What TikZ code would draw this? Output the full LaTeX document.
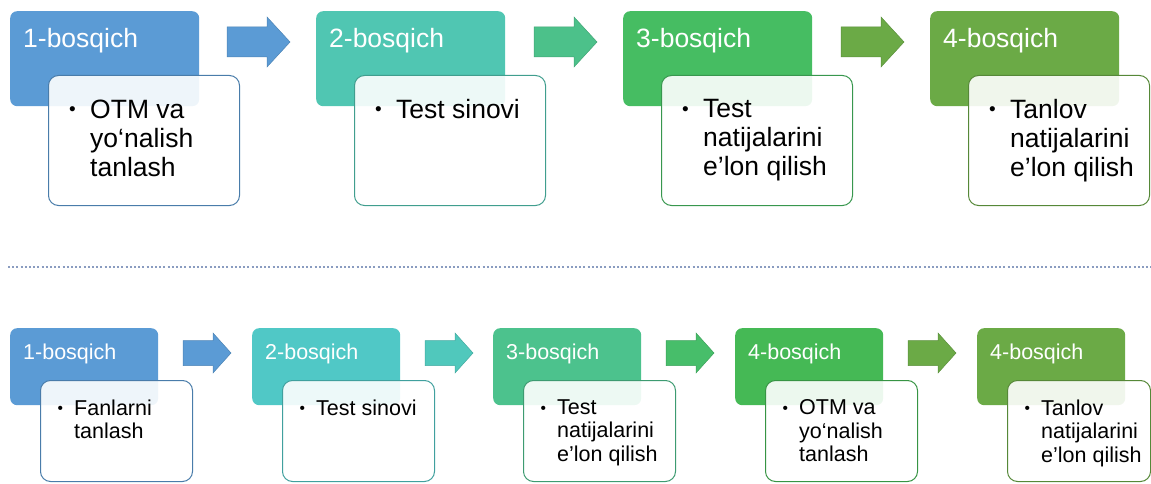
\documentclass[tikz,border=0pt]{standalone}
\usepackage{fontspec}
\setmainfont{Liberation Sans}
\usetikzlibrary{calc}
\definecolor{cBlue}{HTML}{5B9BD5}
\definecolor{cTeal}{HTML}{50C6B2}
\definecolor{cGreen}{HTML}{46BD62}
\definecolor{cOlive}{HTML}{6BAA46}
\definecolor{cCyan}{HTML}{50C8C6}
\definecolor{cMint}{HTML}{4CC28D}
\definecolor{cLeaf}{HTML}{45B955}
\definecolor{aMint}{HTML}{4CC18A}
\definecolor{aTeal}{HTML}{50C8BC}
\definecolor{aGreen}{HTML}{47BE6A}
\definecolor{dotc}{HTML}{8A9CC0}
\tikzset{
  hdr/.style={rectangle, rounded corners=7pt, fill=#1, anchor=north west, inner sep=0pt},
  wbox/.style={rectangle, rounded corners=10pt, draw=#1!80!black, line width=1pt, fill=white, fill opacity=0.9, anchor=north west, inner sep=0pt},
  bigT/.style={font=\fontsize{26.5}{29}\selectfont},
  smallT/.style={font=\fontsize{21.5}{23.5}\selectfont},
  htext/.style={text=white, anchor=base west, inner sep=0pt},
  btext/.style={text=black, anchor=north west, inner sep=0pt, align=left},
  bul/.style={text=black, anchor=base west, inner sep=0pt},
  bigB/.style={font=\fontsize{19}{20}\selectfont},
  smallB/.style={font=\fontsize{15.5}{16}\selectfont},
  blockarrow/.style={fill=#1, draw=#1!85!black, line width=0.5pt},
  sepline/.style={draw=dotc, line width=1.3pt, dash pattern=on 2pt off 2.2pt},
}
% top row stage: name, x, colour, header, body, white width
\newcommand\topstage[6]{%
  \node[hdr=#3, minimum width=189pt, minimum height=95pt] (#1h) at (#2,11) {};
  \node[htext, bigT] (#1ht) at ($(#1h.north west)+(13,37)$) {#4};
  \node[wbox=#3, minimum width=#6pt, minimum height=130pt] (#1w) at ($(#1h.north west)+(38,64)$) {};
  \node[bul, bigB] (#1b) at ($(#1w.north west)+(21,41)$) {•};
  \node[btext, bigT] (#1t) at ($(#1w.north west)+(42,24.5)$) {#5};
}
% bottom row stage
\newcommand\botstage[6]{%
  \node[hdr=#3, minimum width=148pt, minimum height=77pt] (#1h) at (#2,328) {};
  \node[htext, smallT] (#1ht) at ($(#1h.north west)+(13,31)$) {#4};
  \node[wbox=#3, minimum width=#6pt, minimum height=101pt] (#1w) at ($(#1h.north west)+(30,52)$) {};
  \node[bul, smallB] (#1b) at ($(#1w.north west)+(17.5,33)$) {•};
  \node[btext, smallT] (#1t) at ($(#1w.north west)+(34,19.5)$) {#5};
}
\newcommand\toparrow[3]{%
  \coordinate (#1) at (#2,42);
  \path[blockarrow=#3] ($(#1)+(0,-15)$) -- ($(#1)+(40,-15)$) -- ($(#1)+(40,-25)$) -- ($(#1)+(63,0)$)
     -- ($(#1)+(40,25)$) -- ($(#1)+(40,15)$) -- ($(#1)+(0,15)$) -- cycle;
}
\newcommand\botarrow[3]{%
  \coordinate (#1) at (#2,353);
  \path[blockarrow=#3] ($(#1)+(0,-12.5)$) -- ($(#1)+(30,-12.5)$) -- ($(#1)+(30,-20)$) -- ($(#1)+(48,0)$)
     -- ($(#1)+(30,20)$) -- ($(#1)+(30,12.5)$) -- ($(#1)+(0,12.5)$) -- cycle;
}
\begin{document}
\begin{tikzpicture}[x=1pt, y=-1pt]
\useasboundingbox (0,0) rectangle (1151,484);
% top row
\topstage{a}{10}{cBlue}{1-bosqich}{OTM va\\yo‘nalish\\tanlash}{191}
\topstage{b}{316}{cTeal}{2-bosqich}{Test sinovi}{191}
\topstage{c}{623}{cGreen}{3-bosqich}{Test\\natijalarini\\e’lon qilish}{191}
\topstage{d}{930}{cOlive}{4-bosqich}{Tanlov\\natijalarini\\e’lon qilish}{181}
\toparrow{ta1}{227}{cBlue}
\toparrow{ta2}{534}{aMint}
\toparrow{ta3}{841}{cOlive}
% separator
\coordinate (sl) at (8,267);
\coordinate (sr) at (1151,267);
\draw[sepline] (sl) -- (sr);
% bottom row
\botstage{p}{10}{cBlue}{1-bosqich}{Fanlarni\\tanlash}{152}
\botstage{q}{252}{cCyan}{2-bosqich}{Test sinovi}{152}
\botstage{r}{493}{cMint}{3-bosqich}{Test\\natijalarini\\e’lon qilish}{152}
\botstage{s}{735}{cLeaf}{4-bosqich}{OTM va\\yo‘nalish\\tanlash}{152}
\botstage{u}{977}{cOlive}{4-bosqich}{Tanlov\\natijalarini\\e’lon qilish}{143}
\botarrow{ba1}{183}{cBlue}
\botarrow{ba2}{425}{aTeal}
\botarrow{ba3}{666}{aGreen}
\botarrow{ba4}{908}{cOlive}
\end{tikzpicture}
\end{document}
